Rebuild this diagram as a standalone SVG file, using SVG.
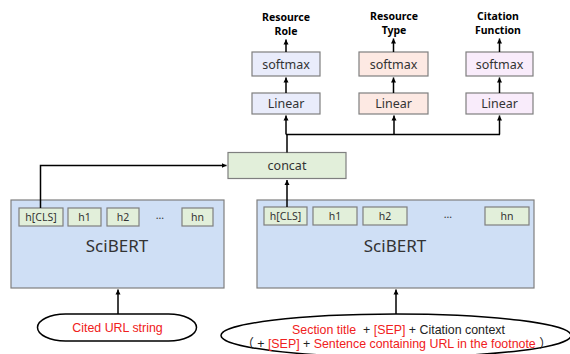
<svg xmlns="http://www.w3.org/2000/svg" width="570" height="354" viewBox="0 0 570 354">
  <style>
    .box { stroke: #7f7f7f; stroke-width: 1.2; }
    .enc { fill: #cfdff5; }
    .tok { fill: #e2efda; }
    .role { fill: #e9ecfb; }
    .type { fill: #fde9e3; }
    .func { fill: #f9ecfb; }
    .cat { fill: #e2efda; }
    .lbl { font-family: "Noto Sans", "Open Sans", sans-serif; fill: #333; text-anchor: middle; dominant-baseline: central; }
    .head { font-family: "Noto Sans", "Open Sans", sans-serif; font-weight: bold; font-size: 10.5px; fill: #000; text-anchor: middle; }
    .in { font-family: "Liberation Sans", Arial, "Noto Sans CJK SC", sans-serif; font-size: 12.4px; text-anchor: middle; fill: #222; white-space: pre; }
    .red { fill: #f02020; }
    .wire { fill: none; stroke: #000; stroke-width: 1.5; }
    .oval { fill: #fff; stroke: #000; stroke-width: 1.5; }
  </style>
  <defs>
    <marker id="tip" markerWidth="6" markerHeight="6" refX="5" refY="3" orient="auto" markerUnits="userSpaceOnUse">
      <path d="M0,0.5 L5,3 L0,5.5 Z" fill="#000"/>
    </marker>
  </defs>

  <rect width="570" height="354" fill="#fff"/>

  <!-- output headings -->
  <g id="heads">
    <text class="head" x="286" y="21">Resource</text>
    <text class="head" x="286" y="35">Role</text>
    <text class="head" x="394" y="20">Resource</text>
    <text class="head" x="394" y="33.5">Type</text>
    <text class="head" x="498" y="20">Citation</text>
    <text class="head" x="498" y="33.5">Function</text>
  </g>

  <!-- classifier heads -->
  <g id="softmax-role"><rect class="box role" x="252" y="52" width="68" height="24"/><text class="lbl" x="286" y="64" font-size="12.5">softmax</text></g>
  <g id="linear-role"><rect class="box role" x="252" y="93" width="68" height="21"/><text class="lbl" x="286" y="103.5" font-size="12.5">Linear</text></g>
  <g id="softmax-type"><rect class="box type" x="359" y="52" width="69" height="24"/><text class="lbl" x="393.5" y="64" font-size="12.5">softmax</text></g>
  <g id="linear-type"><rect class="box type" x="359" y="93" width="69" height="21"/><text class="lbl" x="393.5" y="103.5" font-size="12.5">Linear</text></g>
  <g id="softmax-func"><rect class="box func" x="466" y="52" width="67" height="24"/><text class="lbl" x="499.5" y="64" font-size="12.5">softmax</text></g>
  <g id="linear-func"><rect class="box func" x="466" y="93" width="67" height="21"/><text class="lbl" x="499.5" y="103.5" font-size="12.5">Linear</text></g>

  <!-- concatenation -->
  <g id="concat"><rect class="box cat" x="228" y="152.5" width="118" height="26"/><text class="lbl" x="287" y="165.5" font-size="12.5">concat</text></g>

  <!-- encoder for URL string -->
  <g id="scibert-url">
    <rect class="box enc" x="11" y="200" width="213" height="88"/>
    <rect class="box tok" x="19" y="208" width="44" height="18"/><text class="lbl" x="41" y="217" font-size="10.5">h[CLS]</text>
    <rect class="box tok" x="68" y="208" width="33" height="18"/><text class="lbl" x="84.5" y="217" font-size="10.5">h1</text>
    <rect class="box tok" x="107" y="208" width="32" height="18"/><text class="lbl" x="123" y="217" font-size="10.5">h2</text>
    <text class="lbl" x="160" y="215" font-size="10.5">…</text>
    <rect class="box tok" x="182" y="208" width="31" height="18"/><text class="lbl" x="197.5" y="217" font-size="10.5">hn</text>
    <text class="lbl" x="117" y="245" font-size="17">SciBERT</text>
  </g>

  <!-- encoder for context -->
  <g id="scibert-context">
    <rect class="box enc" x="257" y="200" width="277" height="88"/>
    <rect class="box tok" x="264" y="207" width="43" height="18"/><text class="lbl" x="285.5" y="216" font-size="10.5">h[CLS]</text>
    <rect class="box tok" x="313" y="207" width="44" height="18"/><text class="lbl" x="335" y="216" font-size="10.5">h1</text>
    <rect class="box tok" x="363" y="207" width="44" height="18"/><text class="lbl" x="385" y="216" font-size="10.5">h2</text>
    <text class="lbl" x="448" y="214" font-size="10.5">…</text>
    <rect class="box tok" x="485" y="207" width="44" height="18"/><text class="lbl" x="507" y="216" font-size="10.5">hn</text>
    <text class="lbl" x="395" y="245" font-size="17">SciBERT</text>
  </g>

  <!-- inputs -->
  <g id="input-url">
    <rect class="oval" x="37.5" y="314" width="159" height="27" rx="28" ry="13.5"/>
    <text class="in red" x="117.5" y="332" font-size="13">Cited URL string</text>
  </g>
  <g id="input-context">
    <ellipse class="oval" cx="396" cy="335.5" rx="175" ry="21.5"/>
    <text class="in" x="398.5" y="333.5"><tspan class="red">Section title</tspan>  + <tspan class="red">[SEP]</tspan> + Citation context</text>
    <text class="in" x="396.5" y="347.5">（ + <tspan class="red">[SEP]</tspan> + <tspan class="red">Sentence containing URL in the footnote</tspan> ）</text>
  </g>

  <!-- connectors -->
  <g id="connectors">
    <path class="wire" d="M118,314 V289.5" marker-end="url(#tip)"/>
    <path class="wire" d="M396,314 V289.5" marker-end="url(#tip)"/>
    <path class="wire" d="M40.5,208 V165.5 H226.5" marker-end="url(#tip)"/>
    <path class="wire" d="M287,207 V180" marker-end="url(#tip)"/>
    <path class="wire" d="M287,152.5 V134.5"/>
    <path class="wire" d="M286,134.5 H500"/>
    <path class="wire" d="M286,134.5 V115.5" marker-end="url(#tip)"/>
    <path class="wire" d="M394,134.5 V115.5" marker-end="url(#tip)"/>
    <path class="wire" d="M499.5,134.5 V115.5" marker-end="url(#tip)"/>
    <path class="wire" d="M286,93 V77.5" marker-end="url(#tip)"/>
    <path class="wire" d="M393.5,93 V77.5" marker-end="url(#tip)"/>
    <path class="wire" d="M499.5,93 V77.5" marker-end="url(#tip)"/>
    <path class="wire" d="M286,52 V39.5" marker-end="url(#tip)"/>
    <path class="wire" d="M393.5,52 V38.5" marker-end="url(#tip)"/>
    <path class="wire" d="M499.5,52 V38.5" marker-end="url(#tip)"/>
  </g>
</svg>
